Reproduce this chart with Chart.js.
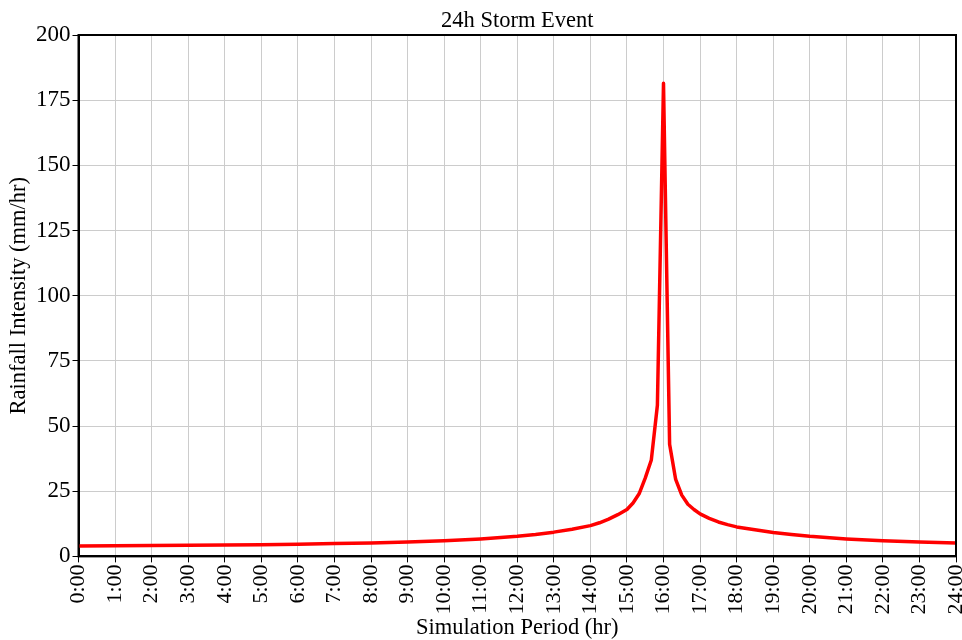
<!DOCTYPE html>
<html>
<head>
<meta charset="utf-8">
<script src="https://cdn.jsdelivr.net/npm/chart.js@4.4.1/dist/chart.umd.min.js"></script>
<style>
    html, body { margin: 0; padding: 0; background: #fff; }
    #wrap { width: 962px; height: 640px; }
</style>
</head>
<body>
<div id="wrap"><canvas id="stormChart"></canvas></div>
<script>
/* datos (hora decimal, mm/hr) */
const hours = [
    0, 1, 2, 3, 4, 5, 6, 7, 8, 9, 10, 11, 12, 12.5, 13, 13.5, 14, 14.25, 14.5, 14.75, 15,
    15.167, 15.333, 15.5, 15.667, 15.833, 16, 16.167, 16.333, 16.5, 16.667, 16.833,
    17, 17.25, 17.5, 17.75, 18, 18.5, 19, 19.5, 20, 21, 22, 23, 24
];
const intensity = [
    4.0, 4.1, 4.2, 4.3, 4.4, 4.5, 4.7, 4.9, 5.1, 5.5, 6.0, 6.7, 7.7, 8.4, 9.3, 10.4, 11.8, 12.9, 14.3, 16.0, 18.0,
    20.5, 24, 30, 37, 58, 181.5, 43, 29.5, 23.5, 20, 18,
    16.3, 14.6, 13.2, 12.2, 11.3, 10.2, 9.2, 8.4, 7.7, 6.7, 6.0, 5.5, 5.1
];
const xTicks = [0, 24, 1];      // min, max, paso (hr)
const yTicks = [0, 200, 25];    // min, max, paso (mm/hr)

const FONT = "'Liberation Serif', 'Times New Roman', serif";

const frameBox = {
    id: "frameBox",
    afterDatasetsDraw(chart) {
        const { ctx, chartArea: a } = chart;
        ctx.save();
        ctx.strokeStyle = "#000";
        ctx.lineWidth = 2;
        ctx.strokeRect(a.left, a.top, a.right - a.left, a.bottom - a.top);
        ctx.restore();
    }
};

const canvas = document.getElementById("stormChart");

new Chart(canvas.getContext("2d"), {
    type: "line",
    data: {
        datasets: [{
            label: "Rainfall Intensity",
            data: hours.map((h, i) => ({ x: h, y: intensity[i] })),
            borderColor: "#ff0000",
            borderWidth: 3.5,
            borderJoinStyle: "round",
            pointRadius: 0,
            fill: false,
            tension: 0
        }]
    },
    options: {
        responsive: true,
        maintainAspectRatio: false,
        animation: false,
        layout: { padding: { top: 9, right: 6, left: 4, bottom: 1 } },
        plugins: {
            legend: { display: false },
            tooltip: { enabled: false },
            title: {
                display: true,
                fullSize: false,
                text: "24h Storm Event",
                color: "#000",
                font: { family: FONT, size: 22.5, weight: "normal", lineHeight: 1.1 },
                padding: { top: 0, bottom: 1.25 }
            }
        },
        scales: {
            x: {
                type: "linear",
                min: xTicks[0],
                max: xTicks[1],
                afterFit(scale) {
                    scale.paddingRight = 0;
                },
                ticks: {
                    stepSize: xTicks[2],
                    autoSkip: false,
                    minRotation: 90,
                    maxRotation: 90,
                    color: "#000",
                    font: { family: FONT, size: 22 },
                    padding: 2,
                    callback(value) {
                        return value + ":00";
                    }
                },
                grid: { color: "#cccccc", tickColor: "#000", tickLength: 6 },
                border: { color: "#000", width: 2 },
                title: {
                    display: true,
                    text: "Simulation Period (hr)",
                    color: "#000",
                    font: { family: FONT, size: 22.5, lineHeight: 1.0 },
                    padding: { top: 0, bottom: 0 }
                }
            },
            y: {
                min: yTicks[0],
                max: yTicks[1],
                ticks: {
                    stepSize: yTicks[2],
                    color: "#000",
                    font: { family: FONT, size: 23 },
                    padding: 2
                },
                grid: { color: "#cccccc", tickColor: "#000", tickLength: 6 },
                border: { color: "#000", width: 2 },
                title: {
                    display: true,
                    text: "Rainfall Intensity (mm/hr)",
                    color: "#000",
                    font: { family: FONT, size: 22.5 },
                    padding: { top: 2, bottom: 1 }
                }
            }
        }
    },
    plugins: [frameBox]
});
</script>
</body>
</html>
